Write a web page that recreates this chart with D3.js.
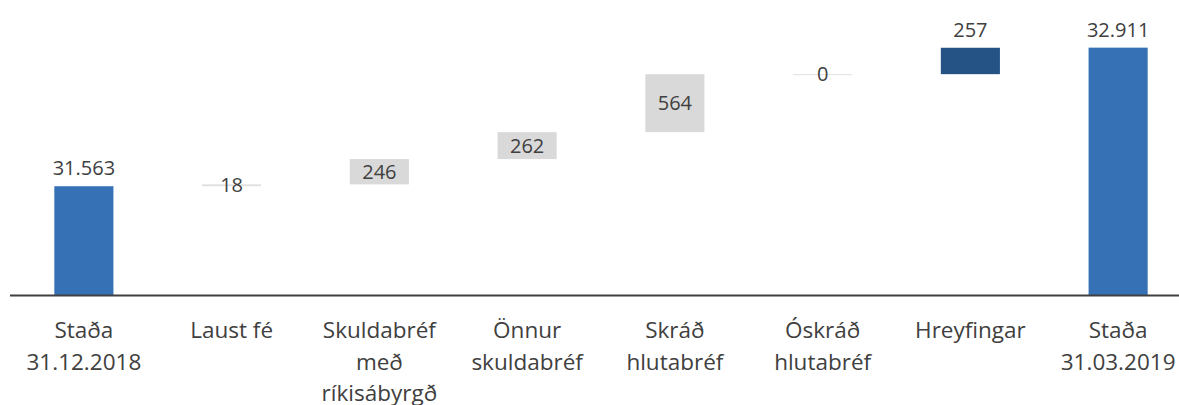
<!DOCTYPE html>
<html>
<head>
<meta charset="utf-8">
<script src="https://cdn.jsdelivr.net/npm/d3@7"></script>
<style>
  body { margin: 0; background: #fff; }
  text { font-family: "Open Sans", sans-serif; fill: #404040; }
</style>
</head>
<body>
<div id="chart"></div>
<script>
// waterfall: start total, changes, end total
var categories = [["Staða", "31.12.2018"], ["Laust fé"], ["Skuldabréf", "með", "ríkisábyrgð"],
                  ["Önnur", "skuldabréf"], ["Skráð", "hlutabréf"], ["Óskráð", "hlutabréf"],
                  ["Hreyfingar"], ["Staða", "31.03.2019"]];
var values = [31563, 18, 246, 262, 564, 0, 257, 32911];
var kinds = ["total", "step", "step", "step", "step", "step", "move", "total"];
var labels = ["31.563", "18", "246", "262", "564", "0", "257", "32.911"];

var width = 1179, height = 405;

var svg = d3.select("#chart").append("svg")
    .attr("width", width)
    .attr("height", height);

var x = d3.scaleBand()
    .domain(d3.range(categories.length))
    .range([10, 1192])
    .paddingInner(0.6)
    .paddingOuter(0.3);

var y = d3.scaleLinear()
    .domain([30500, 33000])
    .range([295.5, 38.5]);

// running start/end of each bar
var running = 0;
var bars = values.map(function(v, i) {
  var b;
  if (kinds[i] == "total") { b = { y0: 30500, y1: v }; running = v; }
  else { b = { y0: running, y1: running + v }; running += v; }
  b.kind = kinds[i]; b.i = i; b.label = labels[i];
  return b;
});

var color = { total: "#3571b4", step: "#d9d9d9", move: "#255386" };

svg.selectAll("rect.bar")
  .data(bars)
  .enter().append("rect")
    .attr("class", "bar")
    .attr("x", function(d) { return x(d.i); })
    .attr("width", x.bandwidth())
    .attr("y", function(d) { return y(d.y1); })
    .attr("height", function(d) { return Math.max(1, y(d.y0) - y(d.y1)); })
    .attr("fill", function(d) { return d.y1 - d.y0 < 30 && d.kind == "step" ? "#e0e0e0" : color[d.kind]; });

// axis line
svg.append("line")
    .attr("x1", 10).attr("x2", width)
    .attr("y1", y(30500)).attr("y2", y(30500))
    .attr("stroke", "#404040")
    .attr("stroke-width", 2);

// value labels
svg.selectAll("text.val")
  .data(bars)
  .enter().append("text")
    .attr("class", "val")
    .attr("x", function(d) { return x(d.i) + x.bandwidth() / 2; })
    .attr("y", function(d) {
      if (d.kind == "step") return (y(d.y0) + y(d.y1)) / 2;
      return y(d.y1) - 18;
    })
    .attr("dy", "0.36em")
    .attr("text-anchor", "middle")
    .style("font-size", "20px")
    .text(function(d) { return d.label; });

// category labels
var cat = svg.selectAll("text.cat")
  .data(categories)
  .enter().append("text")
    .attr("class", "cat")
    .attr("text-anchor", "middle")
    .attr("x", function(d, i) { return x(i) + x.bandwidth() / 2; })
    .attr("y", 338)
    .style("font-size", "22.5px");

cat.selectAll("tspan")
  .data(function(d) { return d; })
  .enter().append("tspan")
    .attr("x", function() { return d3.select(this.parentNode).attr("x"); })
    .attr("dy", function(d, i) { return i == 0 ? 0 : 31.5; })
    .text(function(d) { return d; });
</script>
</body>
</html>
